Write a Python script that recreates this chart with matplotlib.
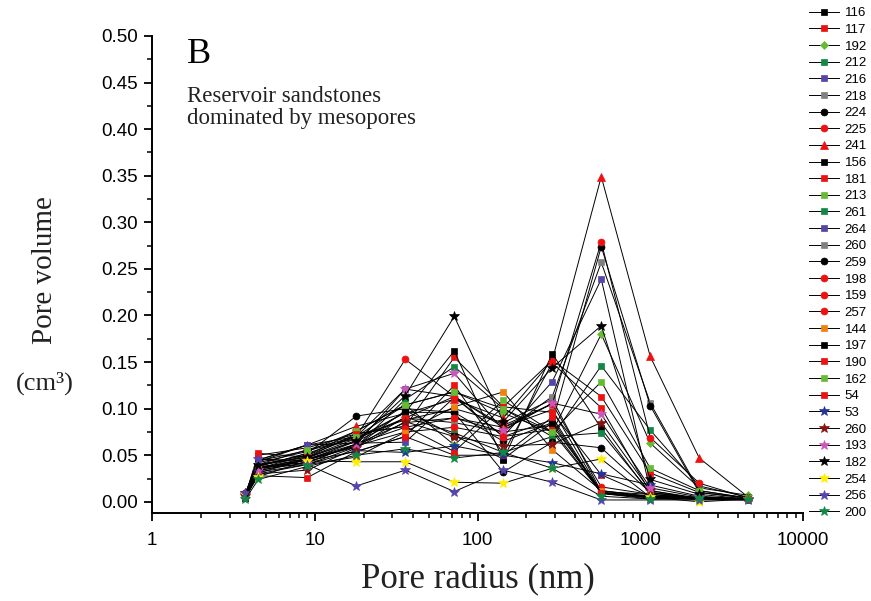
import numpy as np
import matplotlib
matplotlib.use('Agg')
import matplotlib.pyplot as plt
from matplotlib.ticker import FixedLocator, NullFormatter, MultipleLocator

# pore radius (nm)
radius = [3.75, 4.5, 9, 18, 36, 72, 144, 288, 576, 1152, 2304, 4608]

samples = ['116', '117', '192', '212', '216', '218', '224', '225', '241', '156',
           '181', '213', '261', '264', '260', '259', '198', '159', '257', '144',
           '197', '190', '162', '54', '53', '260', '193', '182', '254', '256', '200']

volumes = [
    [0.006, 0.038, 0.052, 0.070, 0.088, 0.100, 0.085, 0.110, 0.011, 0.008, 0.004, 0.004],  # 116
    [0.007, 0.050, 0.058, 0.073, 0.081, 0.155, 0.102, 0.152, 0.113, 0.031, 0.010, 0.004],  # 117
    [0.005, 0.036, 0.050, 0.076, 0.104, 0.118, 0.095, 0.075, 0.180, 0.063, 0.015, 0.007],  # 192
    [0.004, 0.033, 0.045, 0.059, 0.110, 0.145, 0.100, 0.070, 0.146, 0.077, 0.017, 0.005],  # 212
    [0.007, 0.045, 0.061, 0.070, 0.121, 0.113, 0.070, 0.129, 0.239, 0.012, 0.003, 0.002],  # 216
    [0.006, 0.035, 0.045, 0.065, 0.090, 0.085, 0.075, 0.113, 0.257, 0.106, 0.012, 0.004],  # 218
    [0.008, 0.038, 0.052, 0.092, 0.100, 0.096, 0.065, 0.085, 0.274, 0.103, 0.010, 0.004],  # 224
    [0.010, 0.040, 0.050, 0.070, 0.153, 0.113, 0.080, 0.105, 0.279, 0.069, 0.020, 0.004],  # 225
    [0.008, 0.045, 0.061, 0.081, 0.095, 0.110, 0.090, 0.152, 0.349, 0.156, 0.047, 0.005],  # 241
    [0.005, 0.044, 0.055, 0.068, 0.096, 0.162, 0.045, 0.159, 0.079, 0.008, 0.003, 0.003],  # 156
    [0.006, 0.046, 0.044, 0.054, 0.070, 0.125, 0.052, 0.149, 0.101, 0.010, 0.004, 0.003],  # 181
    [0.006, 0.042, 0.054, 0.076, 0.104, 0.061, 0.109, 0.075, 0.129, 0.036, 0.012, 0.004],  # 213
    [0.004, 0.037, 0.040, 0.059, 0.091, 0.074, 0.053, 0.070, 0.074, 0.010, 0.004, 0.003],  # 261
    [0.006, 0.043, 0.061, 0.063, 0.064, 0.112, 0.070, 0.088, 0.009, 0.004, 0.003, 0.002],  # 264
    [0.006, 0.036, 0.046, 0.062, 0.085, 0.090, 0.080, 0.099, 0.010, 0.005, 0.003, 0.003],  # 260
    [0.007, 0.036, 0.047, 0.066, 0.096, 0.096, 0.032, 0.064, 0.058, 0.010, 0.003, 0.003],  # 259
    [0.009, 0.040, 0.048, 0.068, 0.090, 0.113, 0.082, 0.105, 0.016, 0.008, 0.004, 0.003],  # 198
    [0.008, 0.038, 0.042, 0.062, 0.080, 0.090, 0.075, 0.082, 0.012, 0.006, 0.004, 0.003],  # 159
    [0.007, 0.035, 0.045, 0.060, 0.075, 0.080, 0.070, 0.078, 0.010, 0.005, 0.003, 0.003],  # 257
    [0.005, 0.030, 0.040, 0.048, 0.075, 0.102, 0.118, 0.056, 0.012, 0.005, 0.003, 0.003],  # 144
    [0.004, 0.031, 0.046, 0.060, 0.098, 0.071, 0.046, 0.085, 0.009, 0.005, 0.003, 0.003],  # 197
    [0.007, 0.052, 0.048, 0.073, 0.081, 0.054, 0.102, 0.096, 0.029, 0.006, 0.005, 0.003],  # 190
    [0.006, 0.040, 0.056, 0.070, 0.104, 0.118, 0.100, 0.075, 0.010, 0.006, 0.004, 0.003],  # 162
    [0.005, 0.028, 0.026, 0.054, 0.070, 0.050, 0.050, 0.091, 0.009, 0.003, 0.003, 0.003],  # 54
    [0.007, 0.032, 0.040, 0.055, 0.053, 0.060, 0.050, 0.042, 0.030, 0.018, 0.006, 0.003],  # 53
    [0.006, 0.030, 0.034, 0.058, 0.086, 0.070, 0.060, 0.062, 0.085, 0.012, 0.004, 0.003],  # 260
    [0.008, 0.034, 0.042, 0.062, 0.121, 0.138, 0.077, 0.106, 0.094, 0.015, 0.005, 0.003],  # 193
    [0.009, 0.039, 0.048, 0.065, 0.114, 0.199, 0.086, 0.144, 0.189, 0.024, 0.008, 0.003],  # 182
    [0.008, 0.027, 0.044, 0.043, 0.043, 0.021, 0.020, 0.036, 0.046, 0.005, 0.000, 0.003],  # 254
    [0.009, 0.046, 0.040, 0.017, 0.034, 0.011, 0.034, 0.021, 0.002, 0.002, 0.002, 0.002],  # 256
    [0.003, 0.024, 0.038, 0.050, 0.057, 0.047, 0.053, 0.036, 0.006, 0.003, 0.004, 0.003],  # 200
]

BLK, RED, LGR, DGR, PUR, GRY = '#000000', '#EE1111', '#66BB33', '#118844', '#5544AA', '#808080'
ORG, NAV, DRD, PNK, YEL = '#F08010', '#223399', '#881111', '#CC55BB', '#FFEE00'

styles = [
    ('s', BLK), ('s', RED), ('D', LGR), ('s', DGR), ('s', PUR), ('s', GRY),
    ('o', BLK), ('o', RED), ('^', RED), ('s', BLK), ('s', RED), ('s', LGR),
    ('s', DGR), ('s', PUR), ('s', GRY), ('o', BLK), ('o', RED), ('o', RED),
    ('o', RED), ('s', ORG), ('s', BLK), ('s', RED), ('s', LGR), ('s', RED),
    ('*', NAV), ('*', DRD), ('*', PNK), ('*', BLK), ('*', YEL), ('*', PUR), ('*', DGR),
]
msize = {'s': 4.5, 'o': 5, '^': 5.5, 'D': 4.2, '*': 7}

fig = plt.figure(figsize=(8.71, 6.01), dpi=100)
ax = fig.add_axes([152 / 871, 1 - 513 / 601, 651 / 871, 477 / 601])

for name, vals, (m, c) in zip(samples, volumes, styles):
    ax.plot(radius, vals, color='black', lw=0.7, marker=m, ms=msize[m],
            mfc=c, mec=c, mew=0.5, label=name)

ax.set_xscale('log')
ax.set_xlim(1, 10000)
ax.set_ylim(-0.012, 0.5)
ax.xaxis.set_major_locator(FixedLocator([1, 10, 100, 1000, 10000]))
ax.set_xticklabels(['1', '10', '100', '1000', '10000'])
ax.xaxis.set_minor_locator(FixedLocator([k * 10 ** e for e in range(4) for k in range(2, 10)]))
ax.xaxis.set_minor_formatter(NullFormatter())
ax.set_yticks(np.arange(0, 0.501, 0.05))
ax.set_yticklabels(['%.2f' % v for v in np.arange(0, 0.501, 0.05)])
ax.yaxis.set_minor_locator(MultipleLocator(0.025))

for s in ['top', 'right']:
    ax.spines[s].set_visible(False)
for s in ['left', 'bottom']:
    ax.spines[s].set_linewidth(1.4)
ax.tick_params(which='major', direction='out', length=6, width=1.3,
               labelsize=13.5, pad=4)
ax.tick_params(axis='x', which='major', pad=8)
ax.tick_params(which='minor', direction='out', length=3.5, width=1.1)
for lab in ax.get_xticklabels() + ax.get_yticklabels():
    lab.set_family('Liberation Sans')

serif = 'Liberation Serif'
fig.text(187 / 871, 1 - 63 / 601, 'B', fontsize=26, family=serif, ha='left', va='baseline')
fig.text(187 / 871, 1 - 102 / 601, 'Reservoir sandstones', fontsize=16.5, family=serif,
         ha='left', va='baseline', color='#222222')
fig.text(187 / 871, 1 - 124 / 601, 'dominated by mesopores', fontsize=16.5, family=serif,
         ha='left', va='baseline', color='#222222')
fig.text(478 / 871, 1 - 588 / 601, 'Pore radius (nm)', fontsize=25, family=serif,
         ha='center', va='baseline', color='#222222')
fig.text(45 / 871, 1 - 270 / 601, 'Pore volume', fontsize=21, family=serif,
         rotation=90, ha='center', va='center', color='#222222')
fig.text(45 / 871, 1 - 383 / 601, '(cm³)', fontsize=19, family=serif,
         ha='center', va='center', color='#222222')

fig.legend(loc='upper left', bbox_to_anchor=(809 / 871, 1 - 7 / 601), frameon=False,
           handlelength=2.3, handletextpad=0.4, labelspacing=0.335,
           borderpad=0, borderaxespad=0, prop={'family': 'Liberation Sans', 'size': 9.5})

fig.savefig('out.png', dpi=100)
